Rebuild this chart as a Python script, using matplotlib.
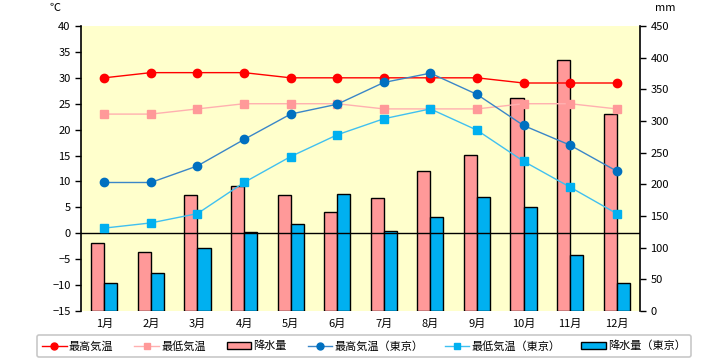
import matplotlib
matplotlib.use("Agg")
import matplotlib.pyplot as plt
import numpy as np
from matplotlib.patches import Patch
from matplotlib.lines import Line2D

plt.rcParams['font.family'] = ['Noto Sans CJK JP', 'DejaVu Sans']

months = ["1月", "2月", "3月", "4月", "5月", "6月", "7月", "8月", "9月", "10月", "11月", "12月"]
max_temp = [30, 31, 31, 31, 30, 30, 30, 30, 30, 29, 29, 29]
min_temp = [23, 23, 24, 25, 25, 25, 24, 24, 24, 25, 25, 24]
rain = [108, 93, 183, 198, 183, 156, 178, 221, 246, 336, 397, 311]
tokyo_max = [9.8, 9.8, 13.0, 18.1, 23.0, 24.9, 29.1, 30.9, 26.8, 20.8, 17.0, 12.0]
tokyo_min = [1.0, 2.0, 3.8, 9.8, 14.8, 19.0, 22.1, 24.0, 19.9, 13.9, 8.9, 3.8]
tokyo_rain = [44, 60, 99, 124, 137, 184, 126, 148, 180, 164, 88, 45]

legend_labels = ["最高気温", "最低気温", "降水量", "最高気温（東京）", "最低気温（東京）", "降水量（東京）"]

fig = plt.figure(figsize=(7.2, 3.6), dpi=100)
ax = fig.add_axes([81/720, 1-311/360, (640-81)/720, (311-26)/360])
ax.set_facecolor('#FFFFCC')
ax2 = ax.twinx()

x = np.arange(len(months))
w = 0.28
ax.bar(x - w/2, rain, width=w, color='#FF9999', edgecolor='black', linewidth=1.0, zorder=2)
ax.bar(x + w/2, tokyo_rain, width=w, color='#00B0F0', edgecolor='black', linewidth=1.0, zorder=2)
ax.set_ylim(0, 450)
ax.set_yticks(np.arange(0, 451, 50))
ax.yaxis.tick_right()
ax.set_xlim(-0.5, 11.5)
ax.set_xticks(x)
ax.set_xticklabels(months, fontsize=8)
ax.tick_params(axis='x', length=0, pad=6)
ax.tick_params(axis='y', direction='out', length=4, labelsize=8, width=1)

ax2.axhline(0, color='black', linewidth=1.0, zorder=1)
ms = 6
ax2.plot(x, max_temp, color='#FF0000', marker='o', markersize=ms, linewidth=1.0, zorder=5)
ax2.plot(x, min_temp, color='#FFB0B0', marker='s', markersize=ms, markerfacecolor='#FF9999',
         markeredgecolor='#FF9999', linewidth=1.0, zorder=4)
ax2.plot(x, tokyo_max, color='#3A86C8', marker='o', markersize=ms, markerfacecolor='#0070C0',
         markeredgecolor='#0070C0', linewidth=1.0, zorder=5)
ax2.plot(x, tokyo_min, color='#40C0F0', marker='s', markersize=ms, markerfacecolor='#00B0F0',
         markeredgecolor='#00B0F0', linewidth=1.0, zorder=4)
ax2.set_ylim(-15, 40)
ax2.set_yticks(np.arange(-15, 41, 5))
ax2.yaxis.tick_left()
ax2.tick_params(axis='y', direction='out', length=4, labelsize=8, width=1)

for a in (ax, ax2):
    for s in ('top', 'bottom', 'left', 'right'):
        a.spines[s].set_visible(False)
ax2.spines['left'].set_visible(True)
ax2.spines['left'].set_linewidth(1.2)
ax.spines['right'].set_visible(True)
ax.spines['right'].set_linewidth(1.2)

fig.text(55/720, 1-8/360, "℃", fontsize=8, ha='center', va='center')
fig.text(665/720, 1-8/360, "mm", fontsize=8, ha='center', va='center')

handles = [
    Line2D([], [], color='#FF0000', marker='o', markersize=5, linewidth=1.0),
    Line2D([], [], color='#FFB0B0', marker='s', markersize=5, markerfacecolor='#FF9999', markeredgecolor='#FF9999', linewidth=1.0),
    Patch(facecolor='#FF9999', edgecolor='black', linewidth=1.0),
    Line2D([], [], color='#3A86C8', marker='o', markersize=5, markerfacecolor='#0070C0', markeredgecolor='#0070C0', linewidth=1.0),
    Line2D([], [], color='#40C0F0', marker='s', markersize=5, markerfacecolor='#00B0F0', markeredgecolor='#00B0F0', linewidth=1.0),
    Patch(facecolor='#00B0F0', edgecolor='black', linewidth=1.0),
]
leg = fig.legend(handles, legend_labels, loc='center', bbox_to_anchor=(364/720, 1-346/360), ncol=6,
                 fontsize=8, frameon=True, fancybox=True, edgecolor='#BBBBBB', handlelength=2.2,
                 handleheight=0.5, handletextpad=0.2, columnspacing=1.9, borderpad=0.5)
leg.get_frame().set_linewidth(1.2)

fig.savefig("out.png", dpi=100, facecolor='white')
